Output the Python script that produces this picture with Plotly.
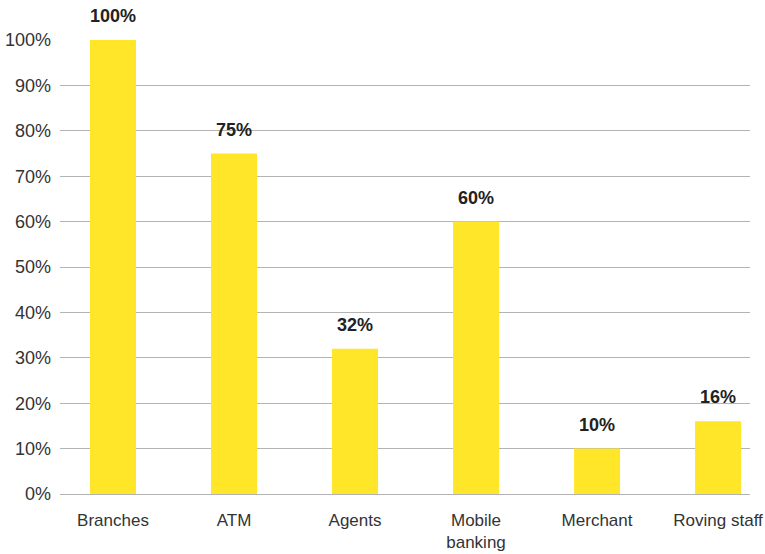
import plotly.graph_objects as go

# Delivery channels and share of respondents using each
channels = ["Branches", "ATM", "Agents", "Mobile<br>banking", "Merchant", "Roving staff"]
shares = [100, 75, 32, 60, 10, 16]
y_ticks = [0, 10, 20, 30, 40, 50, 60, 70, 80, 90, 100]
y_tick_text = [f"{v}%" for v in y_ticks]

FONT = "Liberation Sans Narrow, Arial Narrow, Liberation Sans, Arial, sans-serif"
BAR = "#FFE629"
GRID = "#B4B4B4"

fig = go.Figure()
fig.add_trace(go.Bar(
    x=list(range(len(channels))),
    y=shares,
    marker=dict(color=BAR, line=dict(width=0)),
    hoverinfo="skip",
))

# Value labels above each bar
for i, v in enumerate(shares):
    fig.add_annotation(
        x=i, y=v, text=f"<b>{v}%</b>", showarrow=False,
        yanchor="bottom", yshift=12,
        font=dict(family=FONT, size=18, color="#222222"),
    )

fig.update_layout(
    width=765, height=554,
    margin=dict(l=60, r=15, t=40, b=60),
    paper_bgcolor="white", plot_bgcolor="white",
    showlegend=False,
    bargap=0.62,
    font=dict(family=FONT, size=18, color="#333333"),
    xaxis=dict(
        range=[-0.438, 5.264],
        tickmode="array",
        tickvals=list(range(len(channels))),
        ticktext=channels,
        showgrid=False, zeroline=False, showline=False, ticks="",
        ticklabelstandoff=14,
        ticklabeloverflow="allow",
        automargin=False,
        tickfont=dict(family=FONT, size=17, color="#333333"),
        fixedrange=True,
    ),
    yaxis=dict(
        range=[0, 100],
        tickmode="array",
        tickvals=y_ticks,
        ticktext=y_tick_text,
        showgrid=True, gridcolor=GRID, gridwidth=1,
        zeroline=True, zerolinecolor=GRID, zerolinewidth=1,
        showline=False, ticks="",
        ticklabelstandoff=8,
        automargin=False,
        tickfont=dict(family=FONT, size=18, color="#333333"),
        fixedrange=True,
    ),
)

fig.write_html("out.html")
